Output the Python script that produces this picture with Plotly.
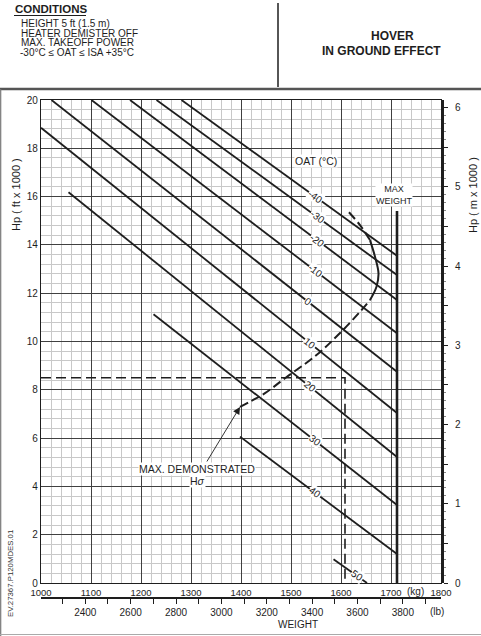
import math
import plotly.graph_objects as go

# ---------------- data ----------------
KG_PER_LB = 0.45359237
M_PER_FT = 0.3048

oat_labels = ["-40", "-30", "-20", "-10", "0", "10", "20", "30", "40", "50"]
oat_start_kg = [1281, 1231, 1178, 1101, 1021, 1000, 1055, 1225, 1398, 1585]
oat_start_hp = [20.0, 20.0, 20.0, 20.0, 20.0, 18.85, 16.18, 11.13, 6.06, 0.98]
oat_end_kg = [1712, 1712, 1712, 1712, 1712, 1712, 1712, 1712, 1712, 1652]
oat_end_hp = [13.55, 12.75, 11.72, 10.34, 8.75, 7.04, 5.22, 3.23, 1.20, 0.0]
oat_label_kg = [1548, 1552, 1552, 1548, 1534, 1538, 1538, 1548, 1548, 1632]

max_weight_kg = 1712
max_weight_top_hp = 15.4

hs_kg = [1398, 1418, 1448, 1488, 1551, 1598, 1641, 1658, 1671, 1675, 1668, 1658, 1638, 1615]
hs_hp = [7.29, 7.51, 7.86, 8.48, 9.44, 10.35, 11.30, 11.72, 12.27, 12.82, 13.51, 14.20, 14.82, 15.37]
hs_solid_from, hs_solid_to = 7, 11

example_hp = 8.5
example_kg = 1608

kg_ticks = [1000, 1100, 1200, 1300, 1400, 1500, 1600, 1700, 1800]
lb_ticks = list(range(2300, 4000, 100))
lb_labels = [str(v) if v % 200 == 0 else "" for v in lb_ticks]
km_ticks = [0, 1, 2, 3, 4, 5, 6]
km_half_ticks = [0.5, 1.5, 2.5, 3.5, 4.5, 5.5]

# ---------------- layout geometry ----------------
W, H = 481, 636
L, R, T, B = 41, 40, 100, 38
PW, PH = W - L - R, H - T - B
Y0_FRAC = 15 / PH  # kg axis sits 15 px above the lb axis


def fx(p):
    return (p - L) / PW


def fy(p):
    return (H - B - p) / PH


FONT = "Liberation Sans, Arial, Helvetica, sans-serif"
INK = "#1e1e1e"

fig = go.Figure()

# OAT lines
for i, lab in enumerate(oat_labels):
    fig.add_trace(go.Scatter(
        x=[oat_start_kg[i], oat_end_kg[i]], y=[oat_start_hp[i], oat_end_hp[i]],
        mode="lines", line=dict(color=INK, width=1.8), hoverinfo="skip", showlegend=False))

# max weight line
fig.add_trace(go.Scatter(x=[max_weight_kg, max_weight_kg], y=[0, max_weight_top_hp],
                         mode="lines", line=dict(color=INK, width=2.6),
                         hoverinfo="skip", showlegend=False))

# example dashed line
fig.add_trace(go.Scatter(x=[1000, example_kg, example_kg], y=[example_hp, example_hp, 0],
                         mode="lines", line=dict(color=INK, width=1.6, dash="10px,5px"),
                         hoverinfo="skip", showlegend=False))

# max demonstrated H-sigma curve
seg_dashed1 = (hs_kg[:hs_solid_from + 1], hs_hp[:hs_solid_from + 1])
seg_solid = (hs_kg[hs_solid_from:hs_solid_to + 1], hs_hp[hs_solid_from:hs_solid_to + 1])
seg_dashed2 = (hs_kg[hs_solid_to:], hs_hp[hs_solid_to:])
for (xs, ys), dash in ((seg_dashed1, "9px,4px"), (seg_solid, "solid"), (seg_dashed2, "9px,4px")):
    fig.add_trace(go.Scatter(x=xs, y=ys, mode="lines", line=dict(color=INK, width=2, dash=dash,
                                                                  shape="spline"),
                             hoverinfo="skip", showlegend=False))

# dummy traces to activate the secondary axes
fig.add_trace(go.Scatter(x=[1000 / KG_PER_LB, 1800 / KG_PER_LB], y=[0, 0], xaxis="x2", yaxis="y",
                         mode="lines", line=dict(width=0), opacity=0, hoverinfo="skip", showlegend=False))
fig.add_trace(go.Scatter(x=[1000, 1000], y=[0, 20 * M_PER_FT], xaxis="x", yaxis="y2",
                         mode="lines", line=dict(width=0), opacity=0, hoverinfo="skip", showlegend=False))
fig.add_trace(go.Scatter(x=[1000, 1000], y=[0, 20 * M_PER_FT], xaxis="x", yaxis="y3",
                         mode="lines", line=dict(width=0), opacity=0, hoverinfo="skip", showlegend=False))

annotations = []

# OAT line labels
for i, lab in enumerate(oat_labels):
    x0, x1 = oat_start_kg[i], oat_end_kg[i]
    y0, y1 = oat_start_hp[i], oat_end_hp[i]
    xl = oat_label_kg[i]
    yl = y0 + (y1 - y0) * (xl - x0) / (x1 - x0)
    slope_px = -(y1 - y0) / (x1 - x0) * (PH * (1 - Y0_FRAC) / 20) / (PW / 800)
    ang = math.degrees(math.atan(slope_px))
    annotations.append(dict(x=xl, y=yl, xref="x", yref="y", text=lab, showarrow=False,
                            textangle=ang, bgcolor="white", borderpad=0,
                            xanchor="center", yanchor="middle",
                            font=dict(family=FONT, size=10, color=INK)))


def note(x, y, text, size, xref="paper", yref="paper", xanchor="center", angle=0, bg=None,
         color=INK):
    d = dict(x=x, y=y, xref=xref, yref=yref, text=text, showarrow=False,
             xanchor=xanchor, yanchor="middle", textangle=angle, borderpad=0,
             font=dict(family=FONT, size=size, color=color))
    if bg:
        d["bgcolor"] = bg
    return d


annotations += [
    note(1550, 17.47, "OAT (°C)", 10.5, "x", "y", bg="white"),
    note(1706, 16.05, "MAX<br>WEIGHT", 9, "x", "y", bg="white"),
    note(1312, 4.72, "MAX. DEMONSTRATED", 10.5, "x", "y", bg="white"),
    note(1312, 4.22, "H<i>σ</i>", 10.5, "x", "y", bg="white"),
    dict(x=hs_kg[0], y=hs_hp[0], xref="x", yref="y", ax=1330, ay=4.97, axref="x", ayref="y",
         text="", showarrow=True, arrowhead=2, arrowsize=1.6, arrowwidth=0.9,
         arrowcolor=INK, standoff=0),
    # axis texts
    note(fx(16), fy(195), "Hp ( ft x 1000 )", 11, angle=-90),
    note(fx(473), fy(195), "Hp ( m x 1000 )", 11, angle=-90),
    note(fx(415), fy(591), "(kg)", 10),
    note(fx(437), fy(611), "(lb)", 10),
    note(fx(298), fy(624), "WEIGHT", 10),
    note(fx(10), fy(574), "EV.27367.P120MDES.01", 7.8, angle=-90, color="#333"),
    # header
    note(fx(14), fy(9), "<b>CONDITIONS</b>", 11.5, xanchor="left"),
    note(fx(20), fy(23.5), "HEIGHT 5 ft (1.5 m)", 10, xanchor="left"),
    note(fx(20), fy(33.3), "HEATER DEMISTER OFF", 10, xanchor="left"),
    note(fx(20), fy(43), "MAX. TAKEOFF POWER", 10, xanchor="left"),
    note(fx(19), fy(52.8), "-30°C ≤ OAT ≤ ISA +35°C", 10, xanchor="left"),
    note(fx(392), fy(36.5), "<b>HOVER</b>", 12),
    note(fx(381), fy(50.5), "<b>IN GROUND EFFECT</b>", 12),
]

shapes = [
    # underline CONDITIONS
    dict(type="line", xref="paper", yref="paper", x0=fx(14), x1=fx(86), y0=fy(15.5), y1=fy(15.5),
         line=dict(color=INK, width=1.2)),
    # header divider
    dict(type="line", xref="paper", yref="paper", x0=fx(278), x1=fx(278), y0=fy(3), y1=fy(87),
         line=dict(color=INK, width=1.5)),
    # header bottom rule
    dict(type="line", xref="paper", yref="paper", x0=fx(0), x1=fx(481), y0=fy(89), y1=fy(89),
         line=dict(color="#555", width=2.5)),
    # page frame (left and bottom)
    dict(type="line", xref="paper", yref="paper", x0=fx(0.7), x1=fx(0.7), y0=fy(89), y1=fy(636),
         line=dict(color="#777", width=1.2)),
    dict(type="line", xref="paper", yref="paper", x0=fx(0), x1=fx(481), y0=fy(634.5), y1=fy(634.5),
         line=dict(color="#aaa", width=1.2)),
]

fig.update_layout(
    width=W, height=H,
    margin=dict(l=L, r=R, t=T, b=B, pad=0),
    paper_bgcolor="white", plot_bgcolor="white",
    showlegend=False,
    font=dict(family=FONT, color=INK),
    xaxis=dict(range=[1000, 1800], domain=[0, 1], anchor="y", tickvals=kg_ticks,
               ticks="", showgrid=True, gridcolor="#404040", gridwidth=1,
               showline=True, linecolor=INK, linewidth=1.2, mirror=True, zeroline=False,
               tickfont=dict(size=9.5, color=INK),
               minor=dict(dtick=20, tick0=1000, showgrid=True, gridcolor="#c8c8c8", gridwidth=0.7)),
    yaxis=dict(range=[0, 20], domain=[Y0_FRAC, 1], anchor="x", tick0=0, dtick=2,
               ticks="", showgrid=True, gridcolor="#404040", gridwidth=1,
               showline=True, linecolor=INK, linewidth=1.2, mirror=True, zeroline=False,
               tickfont=dict(size=10, color=INK),
               minor=dict(dtick=0.4, tick0=0, showgrid=True, gridcolor="#c8c8c8", gridwidth=0.7)),
    xaxis2=dict(range=[1000 / KG_PER_LB, 1800 / KG_PER_LB], overlaying="x", anchor="free",
                position=0, side="bottom", tickvals=lb_ticks, ticktext=lb_labels,
                ticks="outside", ticklen=5, tickwidth=1, tickcolor=INK,
                showline=True, linecolor=INK, linewidth=2, showgrid=False, zeroline=False,
                tickfont=dict(size=10, color=INK)),
    yaxis2=dict(range=[0, 20 * M_PER_FT], overlaying="y", anchor="x", side="right",
                tickvals=km_ticks, ticks="outside", ticklen=4, tickwidth=1, tickcolor=INK,
                showline=True, linecolor=INK, linewidth=3, showgrid=False, zeroline=False,
                ticklabelstandoff=5, tickfont=dict(size=10, color=INK),
                minor=dict(dtick=0.1, tick0=0, ticks="outside", ticklen=2, tickcolor="#888",
                           showgrid=False)),
    yaxis3=dict(range=[0, 20 * M_PER_FT], overlaying="y", anchor="x", side="right",
                tickvals=km_half_ticks, ticks="outside", ticklen=6, tickwidth=1, tickcolor=INK,
                showticklabels=False, showline=False, showgrid=False, zeroline=False),
    annotations=annotations,
    shapes=shapes,
)

fig.write_html("out.html", config={"displayModeBar": False},
               post_script="document.body.style.margin='0';document.body.style.overflow='hidden';")
